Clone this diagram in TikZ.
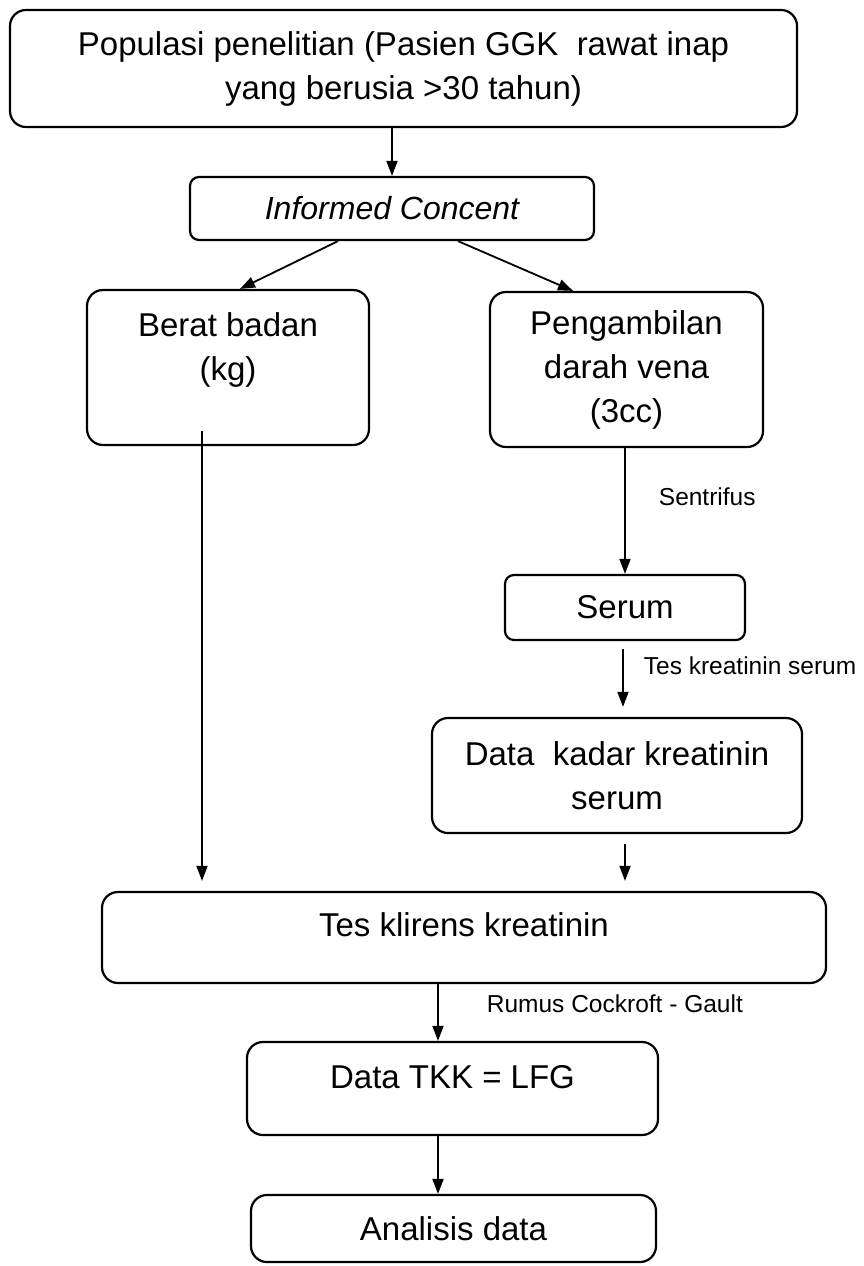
\documentclass[tikz,border=0pt]{standalone}
\usepackage{fontspec}
\setmainfont{Liberation Sans}
\usetikzlibrary{arrows.meta}
\begin{document}
\begin{tikzpicture}[x=1pt,y=-1pt,
  box/.style={draw, line width=2.2pt, rounded corners=16pt, inner sep=0pt, align=center,
    font=\fontsize{33}{44}\selectfont},
  smallbox/.style={box, rounded corners=9pt},
  arr/.style={line width=1.8pt, -{Triangle[length=15pt,width=11pt]}},
  lbl/.style={font=\fontsize{24.5}{28}\selectfont, inner sep=0pt, anchor=west}]
\useasboundingbox (0,0) rectangle (864,1266);

\node[box, minimum width=787pt, minimum height=117pt] (pop) at (403.5,68.5)
  {Populasi penelitian (Pasien GGK\ \ rawat inap\\yang berusia >30 tahun)};
\node[smallbox, minimum width=404pt, minimum height=63pt, font=\fontsize{32}{40}\selectfont\itshape] (inf) at (392,208.5)
  {Informed Concent};
\node[box, minimum width=282pt, minimum height=155pt, text depth=41pt] (berat) at (228,367.5)
  {Berat badan\\(kg)};
\node[box, minimum width=273pt, minimum height=155pt] (peng) at (626.5,369.5)
  {Pengambilan\\darah vena\\(3cc)};
\node[smallbox, minimum width=240pt, minimum height=65pt] (serum) at (625,607.5)
  {Serum};
\node[box, minimum width=370pt, minimum height=115pt] (kadar) at (617,775.5)
  {Data\ \ kadar kreatinin\\serum};
\node[box, minimum width=724pt, minimum height=91pt, text depth=25pt] (klirens) at (464,937.5)
  {Tes klirens kreatinin};
\node[box, minimum width=411pt, minimum height=93pt, text depth=23pt] (tkk) at (452.5,1088.5)
  {Data TKK = LFG};
\node[box, minimum width=405pt, minimum height=67pt] (anal) at (453.5,1228.5)
  {Analisis data};

% connectors
\draw[arr] (pop.south -| inf.north) -- (inf.north);
\draw[arr] ([xshift=-54pt]inf.south) -- ([xshift=12pt]berat.north);
\draw[arr] ([xshift=66pt]inf.south) -- ([xshift=-53.5pt]peng.north);

\coordinate (bl1) at ([xshift=-26pt,yshift=15pt]berat.south);
\path (klirens.north -| bl1) ++(0,-10) coordinate (bl2);
\draw[arr] (bl1) -- (bl2);

\draw[arr] (peng.south -| serum.north) -- node[lbl, pos=0.39, xshift=33pt] {Sentrifus} (serum.north);
\draw[arr] ([xshift=-2pt,yshift=-8pt]serum.south) -- node[lbl, pos=0.28, xshift=20pt] {Tes kreatinin serum} ([xshift=-2pt,yshift=10pt]kadar.north -| serum.south);
\draw[arr] ([xshift=8pt,yshift=-10pt]kadar.south) -- ([xshift=8pt,yshift=10pt]klirens.north -| kadar.south);

\coordinate (cx) at ([xshift=-14.5pt]tkk.north);
\draw[arr] (klirens.south -| cx) -- node[lbl, pos=0.34, xshift=48pt] {Rumus Cockroft - Gault} (cx);
\draw[arr] (tkk.south -| cx) -- (anal.north -| cx);
\end{tikzpicture}
\end{document}
